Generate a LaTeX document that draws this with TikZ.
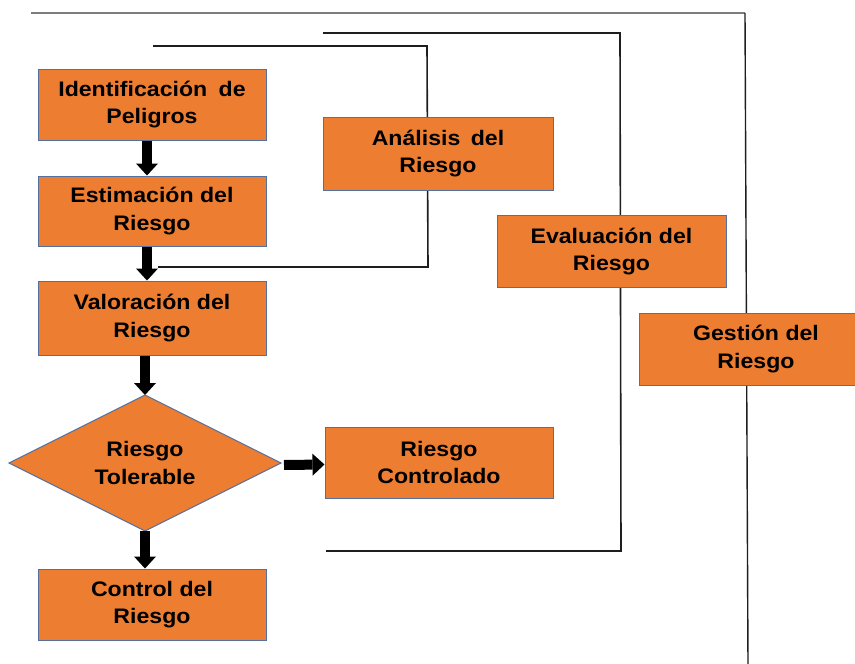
\documentclass[tikz,border=0pt]{standalone}
\usepackage{fontspec}
\newfontfamily\boxfont{Liberation Sans}[FakeStretch=1.1]
\usetikzlibrary{arrows.meta,shapes.geometric}
\definecolor{boxfill}{RGB}{237,125,49}
\definecolor{boxedge}{RGB}{84,112,160}
\definecolor{linedark}{RGB}{30,30,30}
\definecolor{linegrey}{RGB}{125,125,125}
\tikzset{
  stepbox/.style={draw=boxedge, fill=boxfill, line width=1pt, minimum width=228, minimum height=71,
    inner sep=0pt, align=center, text=black, font=\boxfont\bfseries\fontsize{21}{27.5}\selectfont},
  decision/.style={stepbox, diamond, aspect=2, minimum width=272, minimum height=136, outer sep=0pt},
  bracket/.style={draw=linedark, line width=1.6pt},
  outerline/.style={draw=linedark, line width=1.4pt},
  blockarrow/.style={draw=black, line width=10pt, -{Triangle[width=22pt,length=12pt,line width=0pt]}}
}
\begin{document}
\begin{tikzpicture}[x=1pt,y=-1pt]
\clip (0,0) rectangle (855,664);
\fill[white] (0,0) rectangle (855,664);
% bracket coordinates
\coordinate (t3a) at (31,13);
\coordinate (t3b) at (745,13);
\coordinate (t3c) at (748,664);
\coordinate (t2a) at (323,33);
\coordinate (t2b) at (620,33);
\coordinate (t2c) at (621,551);
\coordinate (t2d) at (326,551);
\coordinate (t1a) at (153,46);
\coordinate (t1b) at (427,46);
\coordinate (t1c) at (428,267);
\coordinate (t1d) at (158,267);
% brackets
\draw[linegrey, line width=1.2pt] (t3a) -- (t3b);
\draw[outerline] (t3b) -- (t3c);
\draw[bracket] (t2a) -- (t2b) -- (t2c) -- (t2d);
\draw[bracket] (t1a) -- (t1b) -- (t1c) -- (t1d);
% nodes
\node[stepbox] (idp) at (152,104.5) {Identificación\hspace{5pt} de\\Peligros};
\node[stepbox, minimum height=70] (est) at (152,211) {Estimación del\\Riesgo};
\node[stepbox, minimum height=74] (val) at (152,318) {Valoración del\\Riesgo};
\node[decision] (tol) at (145,463) {Riesgo\\Tolerable};
\node[stepbox] (ctl) at (152,604.5) {Control del\\Riesgo};
\node[stepbox] (rc) at (439,462.5) {Riesgo\\Controlado};
\node[stepbox, minimum width=230, minimum height=73] (ana) at (438,153.5) {Análisis\hspace{4pt} del\\Riesgo};
\node[stepbox, minimum width=229, minimum height=72] (eva) at (611.5,251.5) {Evaluación del\\Riesgo};
\node[stepbox, minimum width=234, minimum height=72] (ges) at (756,349) {Gestión del\\Riesgo};
% arrows
\draw[blockarrow] ([xshift=-5pt]idp.south) -- ([xshift=-5pt]est.north);
\draw[blockarrow] ([xshift=-5pt]est.south) -- ([xshift=-5pt]val.north);
\draw[blockarrow] ([xshift=-7pt]val.south) -- (tol.north);
\draw[blockarrow] (tol.south) -- ([xshift=-7pt]ctl.north);
\draw[blockarrow] ([xshift=3pt,yshift=-2pt]tol.east) -- ([yshift=-2pt]rc.west);
\end{tikzpicture}
\end{document}
